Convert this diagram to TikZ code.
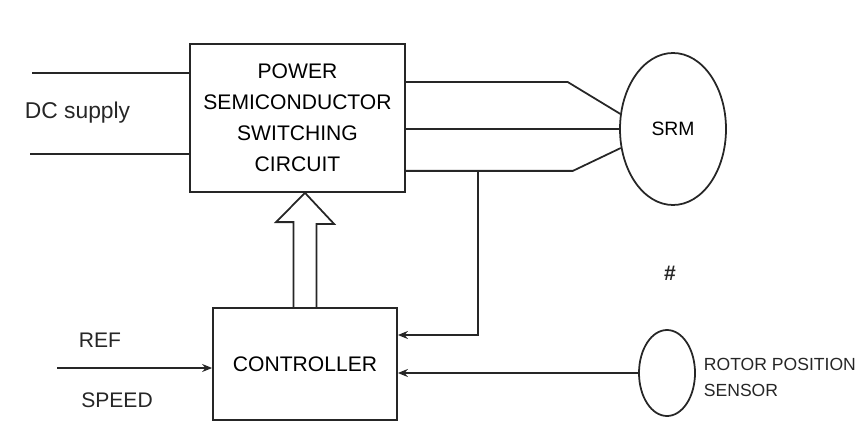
\documentclass[tikz,border=0pt]{standalone}
\usepackage{fontspec}
\setmainfont{Liberation Sans}
\usetikzlibrary{arrows.meta,shapes.geometric}

\begin{document}
\begin{tikzpicture}[line width=1pt,draw=black!85,>={Stealth[length=2mm,width=1.6mm]},
  blk/.style={draw,align=center,inner sep=0pt,font=\fontsize{12}{17.6}\selectfont},
  rnd/.style={draw,ellipse,inner sep=0pt},
  lbl/.style={text=black!85,inner sep=0pt}]
\useasboundingbox (0,0) rectangle (17.24,-8.78);
\node[blk,minimum width=4.3cm,minimum height=2.96cm] (p) at (5.95,-2.36) {POWER\\SEMICONDUCTOR\\SWITCHING\\CIRCUIT};
\node[blk,minimum width=3.68cm,minimum height=2.24cm] (c) at (6.1,-7.28) {CONTROLLER};
\node[rnd,minimum width=2.12cm,minimum height=3.04cm,font=\fontsize{11}{12}\selectfont] (m) at (13.46,-2.58) {SRM};
\node[rnd,minimum width=1.12cm,minimum height=1.72cm] (s) at (13.34,-7.46) {};
\node[lbl,anchor=west,align=left,font=\fontsize{10}{15}\selectfont] (sl) at (14.06,-7.55) {ROTOR POSITION\\SENSOR};
\node[lbl,font=\fontsize{13}{15}\selectfont] (dc) at (1.55,-2.26) {DC supply};
\node[lbl,font=\fontsize{12}{14}\selectfont] (ref) at (2.0,-6.8) {REF};
\node[lbl,font=\fontsize{12}{14}\selectfont] (spd) at (2.34,-8.0) {SPEED};
\node[lbl,font=\bfseries\fontsize{12}{14}\selectfont] (x) at (13.4,-5.46) {\#};
\coordinate (a1) at (0.64,-1.46);
\coordinate (a2) at (0.6,-3.08);
\coordinate (r) at (1.14,-7.36);
\coordinate (j) at ([xshift=14.4mm,yshift=4.4mm]p.south east);
% supply
\draw (a1) -- (a1 -| p.west);
\draw (a2) -- (a2 -| p.west);
% phases
\draw ([yshift=-7.8mm]p.north east) -- ++(3.24,0) -- (m.164);
\draw (p.east |- m.west) -- (m.west);
\draw ([yshift=4.4mm]p.south east) -- ++(3.34,0) -- (m.200);
% feedback
\draw[->] (j) |- ([yshift=5.8mm]c.east);
\draw[->] (s.west) -- (s.west -| c.east);
\draw[->] (r) -- (r -| c.west);
% gate signals
\draw (c.north) ++(-0.23,0) -- ++(0,1.7) -- ++(-0.35,0) -- (c.north |- p.south)
  -- ++(0.58,-0.62) -- ++(-0.35,0) -- ++(0,-1.7);
\end{tikzpicture}
\end{document}
